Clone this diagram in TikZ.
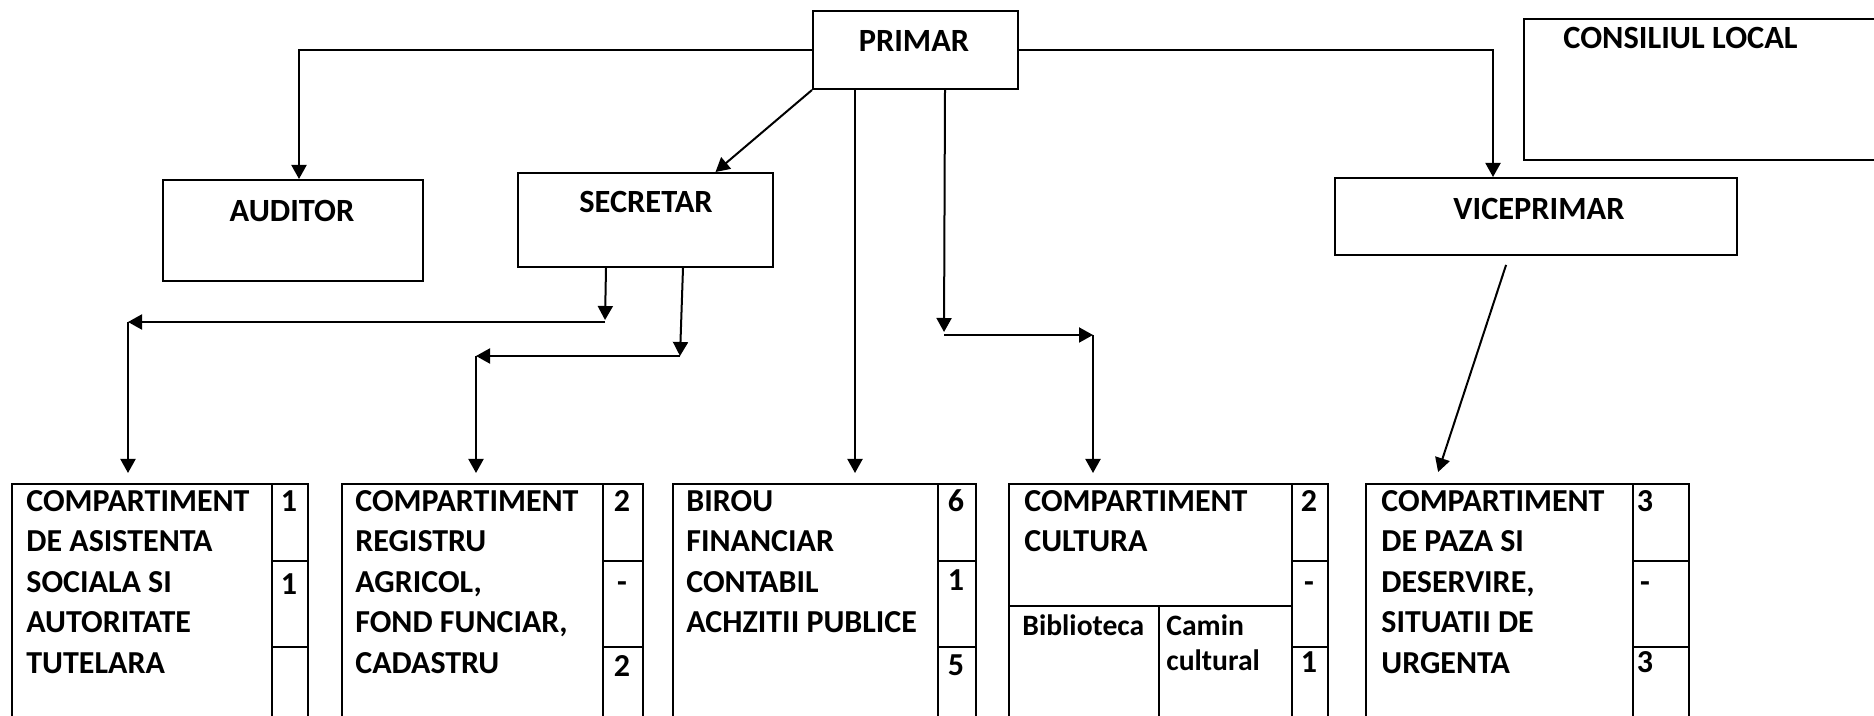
\documentclass[tikz,border=0pt]{standalone}
\usepackage{fontspec}
\setmainfont{Carlito}
\usetikzlibrary{arrows.meta}
\begin{document}
\begin{tikzpicture}[x=0.5pt,y=-0.5pt,
  box/.style={draw, line width=1pt, rectangle, inner sep=0pt, anchor=north west},
  txt/.style={font=\bfseries\fontsize{16}{20.25}\selectfont, align=left, anchor=base west, inner sep=0pt},
  small/.style={font=\bfseries\fontsize{14.8}{17.5}\selectfont, align=left, anchor=base west, inner sep=0pt},
  ttl/.style={font=\bfseries\fontsize{16.2}{18}\selectfont, anchor=base, inner sep=0pt},
  num/.style={font=\bfseries\fontsize{16}{18}\selectfont, anchor=base, inner sep=0pt},
  arr/.style={line width=1pt, -{Triangle[length=7pt,width=7.5pt]}},
  div/.style={line width=1pt}]
\useasboundingbox (0,0) rectangle (1874,716);
\clip (0,0) rectangle (1874,716);
% top boxes
\node[box, minimum width=102.5pt, minimum height=39pt] (primar) at (812,10) {};
\node[box, minimum width=130pt, minimum height=50.5pt] (auditor) at (162,179) {};
\node[box, minimum width=127.5pt, minimum height=47pt] (secretar) at (517,172) {};
\node[box, minimum width=201pt, minimum height=38.5pt] (vice) at (1334,177) {};
\node[box, minimum width=183.5pt, minimum height=70.5pt] (consiliu) at (1523,18) {};
\node[ttl] (tprimar) at (914,52) {PRIMAR};
\node[ttl] (tauditor) at (292,222) {AUDITOR};
\node[ttl] (tsecretar) at (646,213) {SECRETAR};
\node[ttl] (tvice) at (1539,220) {VICEPRIMAR};
\node[ttl, anchor=base west] (tconsiliu) at (1563,49) {CONSILIUL LOCAL};
% bottom boxes
\node[box, minimum width=130pt, minimum height=145pt] (b1) at (11,483) {};
\node[box, minimum width=18pt, minimum height=145pt] (c1) at (271,483) {};
\node[box, minimum width=130.5pt, minimum height=145pt] (b2) at (341,483) {};
\node[box, minimum width=20pt, minimum height=145pt] (c2) at (602,483) {};
\node[box, minimum width=132.5pt, minimum height=145pt] (b3) at (672,483) {};
\node[box, minimum width=19pt, minimum height=145pt] (c3) at (937,483) {};
\node[box, minimum width=141.5pt, minimum height=145pt] (b4) at (1008,483) {};
\node[box, minimum width=18pt, minimum height=145pt] (c4) at (1291,483) {};
\node[box, minimum width=75pt, minimum height=84pt] (bib) at (1008,605) {};
\node[box, minimum width=66.5pt, minimum height=84pt] (camin) at (1158,605) {};
\node[box, minimum width=133.5pt, minimum height=145pt] (b5) at (1365,483) {};
\node[box, minimum width=28pt, minimum height=145pt] (c5) at (1632,483) {};
% column dividers
\foreach \c in {c1,c2,c3,c4,c5}{
  \draw[div] (\c.west |- 0,561) -- (\c.east |- 0,561);
  \draw[div] (\c.west |- 0,647) -- (\c.east |- 0,647);
}
% texts (anchored at the baseline of their last line)
\node[txt] (t1) at (26,673) {COMPARTIMENT\\DE ASISTENTA\\SOCIALA SI\\AUTORITATE\\TUTELARA};
\node[txt] (t2) at (355,673) {COMPARTIMENT\\REGISTRU\\AGRICOL,\\FOND FUNCIAR,\\CADASTRU};
\node[txt] (t3) at (686,632.5) {BIROU\\FINANCIAR\\CONTABIL\\ACHZITII PUBLICE};
\node[txt] (t4) at (1024,551.5) {COMPARTIMENT\\CULTURA};
\node[small] (tbib) at (1022,635) {Biblioteca};
\node[small] (tcamin) at (1166,670) {Camin\\cultural};
\node[txt] (t5) at (1381,673) {COMPARTIMENT\\DE PAZA SI\\DESERVIRE,\\SITUATII DE\\URGENTA};
% numbers
\node[num] (n11) at (289,511) {1};
\node[num] (n12) at (289,594) {1};
\node[num] (n21) at (622,511) {2};
\node[num] (n22) at (622,592) {-};
\node[num] (n23) at (622,676) {2};
\node[num] (n31) at (956,511) {6};
\node[num] (n32) at (956,590) {1};
\node[num] (n33) at (956,675) {5};
\node[num] (n41) at (1309,511) {2};
\node[num] (n42) at (1309,592) {-};
\node[num] (n43) at (1309,672) {1};
\node[num] (n51) at (1645,511) {3};
\node[num] (n52) at (1645,592) {-};
\node[num] (n53) at (1645,672) {3};
% junction coordinates
\coordinate (s1) at (605,322);
\coordinate (s2) at (128,322);
\coordinate (s3) at (680,356);
\coordinate (s4) at (476,356);
\coordinate (j1) at (944,335);
\coordinate (j2) at (1093,335);
% connectors
\draw[arr] (primar.west) -| ([xshift=3pt]auditor.north);
\draw[arr] (primar.east) -| ([xshift=-21.5pt]vice.north);
\draw[arr] (primar.south west) -- ([xshift=35pt]secretar.north);
\draw[arr, shorten >=5pt] ([xshift=-30.25pt]primar.south) -- ([xshift=-30.25pt]primar.south |- b3.north);
\draw[arr, shorten >=1.5pt] ([xshift=14.75pt]primar.south) -- (j1);
\draw[arr] (j1) -- (j2);
\draw[arr, shorten >=5pt] (j2) -- (j2 |- b4.north);
\draw[arr, shorten >=1pt] ([xshift=-19.75pt]secretar.south) -- (s1);
\draw[arr] (s1) -- (s2);
\draw[arr, shorten >=5pt] (s2) -- (s2 |- b1.north);
\draw[arr] ([xshift=18.75pt]secretar.south) -- (s3);
\draw[arr] (s3) -- (s4);
\draw[arr, shorten >=5pt] (s4) -- (s4 |- b2.north);
\draw[arr, shorten <=4.7pt, shorten >=5.8pt] ([xshift=-13.5pt]vice.south) -- ([xshift=-32.5pt]b5.north);
\end{tikzpicture}
\end{document}
